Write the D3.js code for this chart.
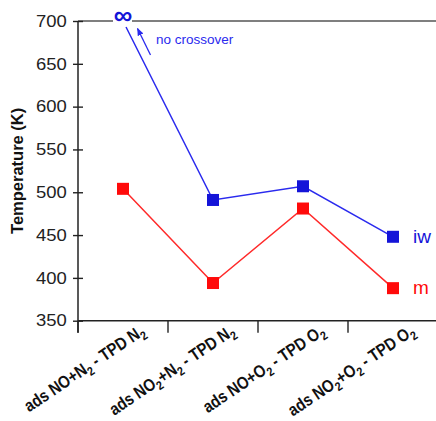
<!DOCTYPE html>
<html>
<head>
<meta charset="utf-8">
<script src="https://cdn.jsdelivr.net/npm/d3@7"></script>
<style>
  html, body { margin: 0; padding: 0; background: #fff; }
  svg { display: block; font-family: "Liberation Sans", Arial, sans-serif; }
</style>
</head>
<body>
<svg id="chart" width="436" height="421"></svg>
<script>
// Adsorption / TPD conditions ("_2" marks a subscript 2)
const categories = [
  "ads NO+N_2 - TPD N_2",
  "ads NO_2+N_2 - TPD N_2",
  "ads NO+O_2 - TPD O_2",
  "ads NO_2+O_2 - TPD O_2"
];
// Crossover temperatures (K); Infinity = no crossover
const iwValues = [Infinity, 491, 507, 448];
const mValues  = [504, 394, 481, 388];
const seriesNames = ["iw", "m"];
const yTicks = [350, 400, 450, 500, 550, 600, 650, 700];
const yTitle = "Temperature (K)";
const noteText = "no crossover";

const svg = d3.select("#chart");
const W = 436, H = 421;
const plotLeft = 78, plotRight = 438, plotTop = 21, plotBottom = 320.7;

const x = d3.scaleBand().domain(categories).range([plotLeft, plotRight]).padding(0);
const cx = c => x(c) + x.bandwidth() / 2;
const y = d3.scaleLinear().domain([350, 700]).range([plotBottom, plotTop]);

const BLUE = "#1414d8", BLUE_LINE = "#2a2aee", RED = "#ff0a0a", RED_LINE = "#ff2a2a";

// Top frame line, broken around the infinity sign
const infX = cx(categories[0]);
svg.append("line").attr("x1", plotLeft).attr("x2", infX - 10)
  .attr("y1", y(700)).attr("y2", y(700)).attr("stroke", "#555").attr("stroke-width", 1.5);
svg.append("line").attr("x1", infX + 9).attr("x2", W)
  .attr("y1", y(700)).attr("y2", y(700)).attr("stroke", "#555").attr("stroke-width", 1.5);

// Y axis with ticks crossing the spine
const yAxis = svg.append("g").attr("transform", `translate(${plotLeft},0)`)
  .call(d3.axisLeft(y).tickValues(yTicks).tickSize(5).tickPadding(5))
  .call(g => g.select(".domain").remove());
yAxis.selectAll(".tick line").attr("stroke", "#222").attr("stroke-width", 1.4);
yAxis.selectAll(".tick text")
  .attr("fill", "#222").attr("font-size", 16.5)
  .attr("font-family", "Liberation Sans, Arial, sans-serif")
  .attr("transform", "scale(1.12,1)");
svg.append("g").attr("transform", `translate(${plotLeft},0)`)
  .call(d3.axisRight(y).tickValues(yTicks).tickSize(5).tickFormat(""))
  .call(g => g.select(".domain").remove())
  .selectAll(".tick line").attr("stroke", "#222").attr("stroke-width", 1.4);
svg.append("line").attr("x1", plotLeft).attr("x2", plotLeft)
  .attr("y1", y(700)).attr("y2", plotBottom + 12).attr("stroke", "#222").attr("stroke-width", 1.5);

// X axis: ticks at category boundaries
const xAxis = svg.append("g").attr("transform", `translate(0,${plotBottom})`)
  .call(d3.axisBottom(x).tickSize(12).tickFormat(""))
  .call(g => g.select(".domain").attr("d", `M${plotLeft},0H${W}`).attr("stroke", "#222").attr("stroke-width", 1.5));
xAxis.selectAll(".tick line").attr("transform", `translate(${-x.bandwidth() / 2},0)`)
  .attr("stroke", "#222").attr("stroke-width", 1.4);

// Rotated category labels with subscripts
categories.forEach(c => {
  const t = svg.append("text")
    .attr("transform", `translate(${cx(c) + 23},${plotBottom + 13}) rotate(-34) scale(0.96,1.12)`)
    .attr("text-anchor", "end").attr("font-weight", "bold").attr("font-size", 15.5)
    .attr("fill", "#111");
  let shift = 0;
  c.split(/(_2)/).forEach(part => {
    if (!part) return;
    if (part === "_2") {
      t.append("tspan").attr("font-size", 11).attr("dy", 4 - shift).text("2");
      shift = 4;
    } else {
      t.append("tspan").attr("dy", -shift).text(part);
      shift = 0;
    }
  });
});

// Y axis title
svg.append("text")
  .attr("transform", `translate(23,${(plotTop + plotBottom) / 2}) rotate(-90)`)
  .attr("text-anchor", "middle").attr("font-weight", "bold").attr("font-size", 16.5)
  .attr("fill", "#111").text(yTitle);

// Series lines
const finite = v => Number.isFinite(v);
const lineGen = d3.line().x(d => d[0]).y(d => d[1]);
const mPts = mValues.map((v, i) => [cx(categories[i]), y(v)]);
svg.append("path").attr("d", lineGen(mPts)).attr("fill", "none")
  .attr("stroke", RED_LINE).attr("stroke-width", 1.5);

const iwPts = iwValues.map((v, i) => [cx(categories[i]), y(finite(v) ? v : 700)]);
// infinite point: line starts just below the infinity sign
const p0 = iwPts[0], p1 = iwPts[1];
const tStart = 6 / (p1[1] - p0[1]);
const iwLine = [[p0[0] + (p1[0] - p0[0]) * tStart, p0[1] + 6], ...iwPts.slice(1)];
svg.append("path").attr("d", lineGen(iwLine)).attr("fill", "none")
  .attr("stroke", BLUE_LINE).attr("stroke-width", 1.5);

// Markers
const S = 12;
svg.selectAll("rect.m").data(mValues).enter().append("rect")
  .attr("x", (d, i) => cx(categories[i]) - S / 2).attr("y", d => y(d) - S / 2)
  .attr("width", S).attr("height", S).attr("fill", RED);
svg.selectAll("rect.iw").data(iwValues.filter(finite)).enter().append("rect")
  .attr("x", (d, i) => cx(categories[i + 1]) - S / 2).attr("y", d => y(d) - S / 2)
  .attr("width", S).attr("height", S).attr("fill", BLUE);

// Infinity sign for the missing crossover
svg.append("text").attr("x", infX).attr("y", y(700) + 2.5)
  .attr("text-anchor", "middle").attr("font-weight", "bold").attr("font-size", 26)
  .attr("fill", BLUE).text("\u221E");

// Annotation arrow and text
svg.append("defs").append("marker").attr("id", "ah")
  .attr("viewBox", "0 0 10 10").attr("refX", 9).attr("refY", 5)
  .attr("markerWidth", 6).attr("markerHeight", 6).attr("orient", "auto")
  .append("path").attr("d", "M0,1 L10,5 L0,9 Z").attr("fill", BLUE_LINE);
svg.append("line").attr("x1", 150.5).attr("y1", 55).attr("x2", 137.5).attr("y2", 28.5)
  .attr("stroke", BLUE_LINE).attr("stroke-width", 1.3).attr("marker-end", "url(#ah)");
svg.append("text").attr("x", 156).attr("y", 44).attr("font-size", 13.5)
  .attr("fill", BLUE_LINE).text(noteText);

// Series labels beside the last points
const last = categories.length - 1;
svg.append("text").attr("x", cx(categories[last]) + 20).attr("y", y(iwValues[last]) + 6)
  .attr("font-size", 19).attr("fill", BLUE).text(seriesNames[0]);
svg.append("text").attr("x", cx(categories[last]) + 20).attr("y", y(mValues[last]) + 6)
  .attr("font-size", 19).attr("fill", RED).text(seriesNames[1]);
</script>
</body>
</html>
